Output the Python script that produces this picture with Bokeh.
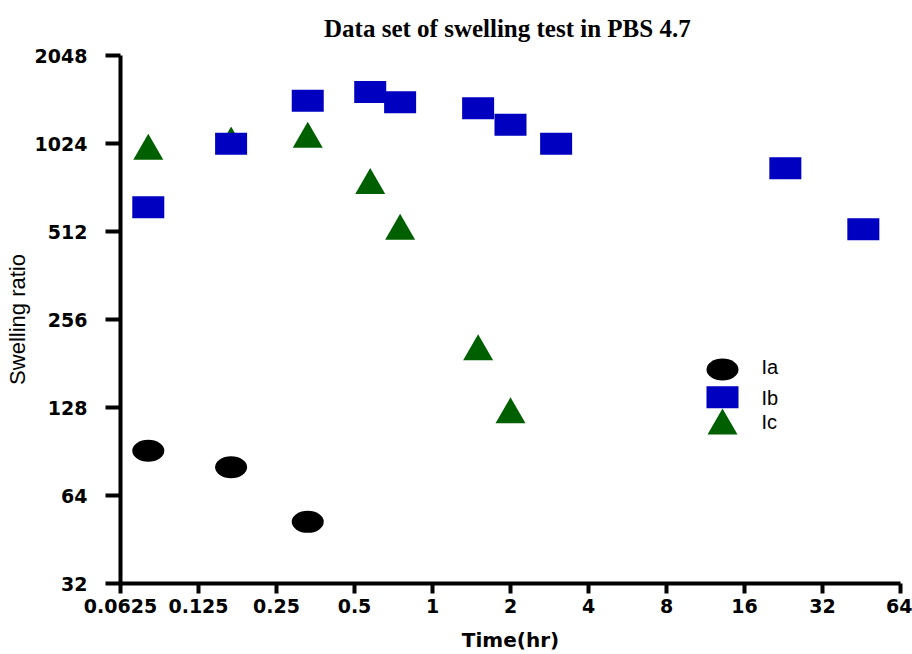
from bokeh.plotting import figure
from bokeh.models import FixedTicker, Range1d, LinearScale, ColumnDataSource
from bokeh.embed import file_html
from bokeh.resources import INLINE
from bokeh.core.properties import value

# ---------------- data ----------------
series_names = ["Ia", "Ib", "Ic"]

time_a = [0.08, 0.167, 0.33]
swell_a = [91, 80, 52]

time_b = [0.08, 0.167, 0.33, 0.575, 0.75, 1.5, 2, 3, 23, 46]
swell_b = [620, 1022, 1433, 1535, 1416, 1353, 1187, 1022, 842, 521]

time_c = [0.08, 0.167, 0.33, 0.575, 0.75, 1.5, 2]
swell_c = [964, 1022, 1060, 736, 514, 199, 121]

x_ticks = [0.0625, 0.125, 0.25, 0.5, 1, 2, 4, 8, 16, 32, 64]
x_tick_labels = ["0.0625", "0.125", "0.25", "0.5", "1", "2", "4", "8", "16", "32", "64"]
y_ticks = [32, 64, 128, 256, 512, 1024, 2048]
y_tick_labels = ["32", "64", "128", "256", "512", "1024", "2048"]

# ---------------- styles ----------------
COL_A = "#000000"
COL_B = "#0000C0"
COL_C = "#006000"

p = figure(width=912, height=654, x_axis_type="log", y_axis_type="log",
           x_range=Range1d(x_ticks[0], x_ticks[-1]),
           y_range=Range1d(y_ticks[0], y_ticks[-1]),
           output_backend="svg", toolbar_location=None,
           min_border_left=120, min_border_right=12,
           min_border_top=55, min_border_bottom=70,
           title="Data set of swelling test in PBS  4.7")

p.xgrid.visible = False
p.ygrid.visible = False
p.outline_line_color = None
p.background_fill_color = "white"
p.border_fill_color = "white"

p.title.align = "center"
p.title.vertical_align = "top"
p.title.text_font = "Liberation Serif"
p.title.text_font_style = "bold"
p.title.text_font_size = "25px"
p.title.text_color = "black"
p.title.standoff = 24

p.xaxis.ticker = FixedTicker(ticks=x_ticks, minor_ticks=[])
p.yaxis.ticker = FixedTicker(ticks=y_ticks, minor_ticks=[])
p.xaxis.major_label_overrides = {t: l for t, l in zip(x_ticks, x_tick_labels)}
p.yaxis.major_label_overrides = {t: l for t, l in zip(y_ticks, y_tick_labels)}

for ax in (p.xaxis[0], p.yaxis[0]):
    ax.axis_line_width = 4
    ax.axis_line_color = "black"
    ax.major_tick_line_width = 4
    ax.major_tick_line_color = "black"
    ax.major_tick_in = 0
    ax.minor_tick_in = 0
    ax.minor_tick_out = 0
    ax.major_label_text_font = "DejaVu Sans"
    ax.major_label_text_font_style = "bold"
    ax.major_label_text_font_size = "19px"
    ax.major_label_text_color = "black"

p.xaxis.major_tick_out = 10
p.yaxis.major_tick_out = 15
p.xaxis.major_label_standoff = 5
p.yaxis.major_label_standoff = 18

p.xaxis.axis_label = "Time(hr)"
p.xaxis.axis_label_text_font = "DejaVu Sans"
p.xaxis.axis_label_text_font_style = "bold"
p.xaxis.axis_label_text_font_size = "20px"
p.xaxis.axis_label_text_color = "black"
p.xaxis.axis_label_standoff = 12

p.yaxis.axis_label = "Swelling ratio"
p.yaxis.axis_label_text_font = "Liberation Sans"
p.yaxis.axis_label_text_font_style = "normal"
p.yaxis.axis_label_text_font_size = "22px"
p.yaxis.axis_label_text_color = "black"
p.yaxis.axis_label_standoff = 2

# ---------------- data marks ----------------
src_a = ColumnDataSource(dict(x=time_a, y=swell_a))
src_b = ColumnDataSource(dict(x=time_b, y=swell_b))
src_c = ColumnDataSource(dict(x=time_c, y=swell_c))

p.ellipse(x="x", y="y", width=32, height=22, width_units="screen", height_units="screen",
          source=src_a, fill_color=COL_A, line_color=None)
p.scatter(x="x", y="y", source=src_c, marker="triangle", size=30,
          fill_color=COL_C, line_color=None)
p.rect(x="x", y="y", width=32, height=22, width_units="screen", height_units="screen",
       source=src_b, fill_color=COL_B, line_color=None)

# ---------------- legend (drawn in frame-pixel coordinates) ----------------
p.extra_x_ranges = {"px": Range1d(120, 900)}
p.extra_y_ranges = {"py": Range1d(584, 55)}
p.extra_x_scales = {"px": LinearScale()}
p.extra_y_scales = {"py": LinearScale()}

leg_x = 722
leg_text_x = 761
leg_y = [369.5, 397.5, 426]

p.ellipse(x=[leg_x], y=[leg_y[0]], width=32, height=22, width_units="screen",
          height_units="screen", fill_color=COL_A, line_color=None,
          x_range_name="px", y_range_name="py")
p.rect(x=[leg_x], y=[leg_y[1]], width=32, height=22, width_units="screen",
       height_units="screen", fill_color=COL_B, line_color=None,
       x_range_name="px", y_range_name="py")
p.scatter(x=[leg_x], y=[leg_y[2]], marker="triangle", size=30,
          fill_color=COL_C, line_color=None, x_range_name="px", y_range_name="py")
p.text(x=[leg_text_x] * 3, y=[leg_y[0] - 2, leg_y[1] + 1, leg_y[2] - 4], text=series_names,
       text_font=value("Liberation Sans"), text_font_size="20px",
       text_baseline="middle", text_align="left", text_color="black",
       x_range_name="px", y_range_name="py")

open("out.html", "w").write(file_html(p, INLINE))
